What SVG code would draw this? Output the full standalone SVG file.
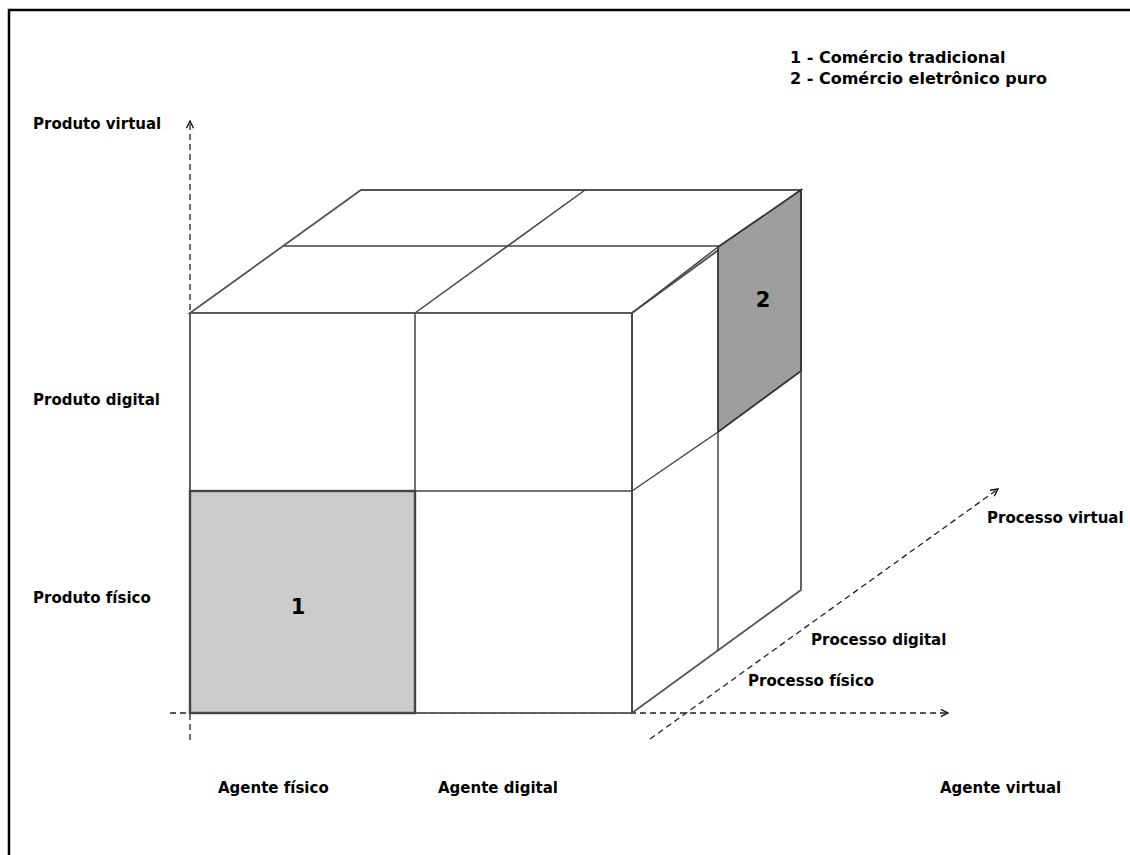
<svg xmlns="http://www.w3.org/2000/svg" width="1130" height="855" viewBox="0 0 1130 855">
<defs>
<style>
.lbl{font-family:"DejaVu Sans","Liberation Sans",sans-serif;font-weight:bold;font-size:15px;fill:#000}
.leg{font-family:"DejaVu Sans","Liberation Sans",sans-serif;font-weight:bold;font-size:16px;fill:#000}
.num{font-family:"DejaVu Sans","Liberation Sans",sans-serif;font-weight:bold;font-size:21px;fill:#000}
.axis{stroke:#222;stroke-width:1.3;stroke-dasharray:6 4;fill:none}
.edge{stroke:#444;stroke-width:1.5;fill:none;stroke-linejoin:round}
.face{stroke:#555;stroke-width:1.8;fill:#fff}
</style>
<marker id="chev" viewBox="0 0 10 10" refX="9" refY="5" markerWidth="9" markerHeight="9" markerUnits="userSpaceOnUse" orient="auto">
<path d="M1,1 L9,5 L1,9" fill="none" stroke="#111" stroke-width="1.5"/>
</marker>
</defs>
<rect width="1130" height="855" fill="#fff"/>
<path d="M9,855 V10 H1130" fill="none" stroke="#000" stroke-width="2.5"/>

<g id="connectors">
<line class="axis" x1="190" y1="740" x2="190" y2="121" marker-end="url(#chev)"/>
<line class="axis" x1="170" y1="713" x2="948" y2="713" marker-end="url(#chev)"/>
<line class="axis" x1="650" y1="739" x2="998" y2="489" marker-end="url(#chev)"/>
</g>

<g id="cube">
<g id="top-face">
<polygon class="face" points="190,313 361,190 801,190 632,313"/>
<line class="edge" x1="284" y1="246" x2="719" y2="246"/>
<line class="edge" x1="415" y1="313" x2="585" y2="190" stroke="#333" stroke-width="2"/>
</g>
<g id="right-face">
<polygon class="face" points="632,313 801,190 801,590 632,713"/>
<polygon id="cell-2" points="718,247 801,190 801,371 718,432" fill="#9e9e9e" stroke="#333" stroke-width="1.8"/>
<line class="edge" x1="718" y1="432" x2="718" y2="651"/>
<line class="edge" x1="632" y1="491" x2="718" y2="432" stroke="#333" stroke-width="2"/>
<line class="edge" x1="632" y1="313" x2="718" y2="247"/>
</g>
<g id="front-face">
<rect class="face" x="190" y="313" width="442" height="400"/>
<line class="edge" x1="415" y1="313" x2="415" y2="713" stroke="#333" stroke-width="2.2"/>
<line class="edge" x1="190" y1="491" x2="632" y2="491" stroke="#666" stroke-width="2"/>
<line class="edge" x1="632" y1="313" x2="632" y2="713" stroke="#444" stroke-width="2"/>
<rect id="cell-1" x="190" y="491" width="225" height="222" fill="#cccccc" stroke="#444" stroke-width="2.4"/>
</g>
</g>

<g id="cell-labels">
<text class="num" x="298" y="614" text-anchor="middle">1</text>
<text class="num" x="763" y="307" text-anchor="middle">2</text>
</g>

<g id="legend">
<text class="leg" x="790" y="63">1 - Comércio tradicional</text>
<text class="leg" x="790" y="84">2 - Comércio eletrônico puro</text>
</g>

<g id="axis-labels">
<text class="lbl" x="33" y="129">Produto virtual</text>
<text class="lbl" x="33" y="405">Produto digital</text>
<text class="lbl" x="33" y="603">Produto físico</text>
<text class="lbl" x="218" y="793">Agente físico</text>
<text class="lbl" x="438" y="793">Agente digital</text>
<text class="lbl" x="940" y="793">Agente virtual</text>
<text class="lbl" x="987" y="523">Processo virtual</text>
<text class="lbl" x="811" y="645">Processo digital</text>
<text class="lbl" x="748" y="686">Processo físico</text>
</g>
</svg>
